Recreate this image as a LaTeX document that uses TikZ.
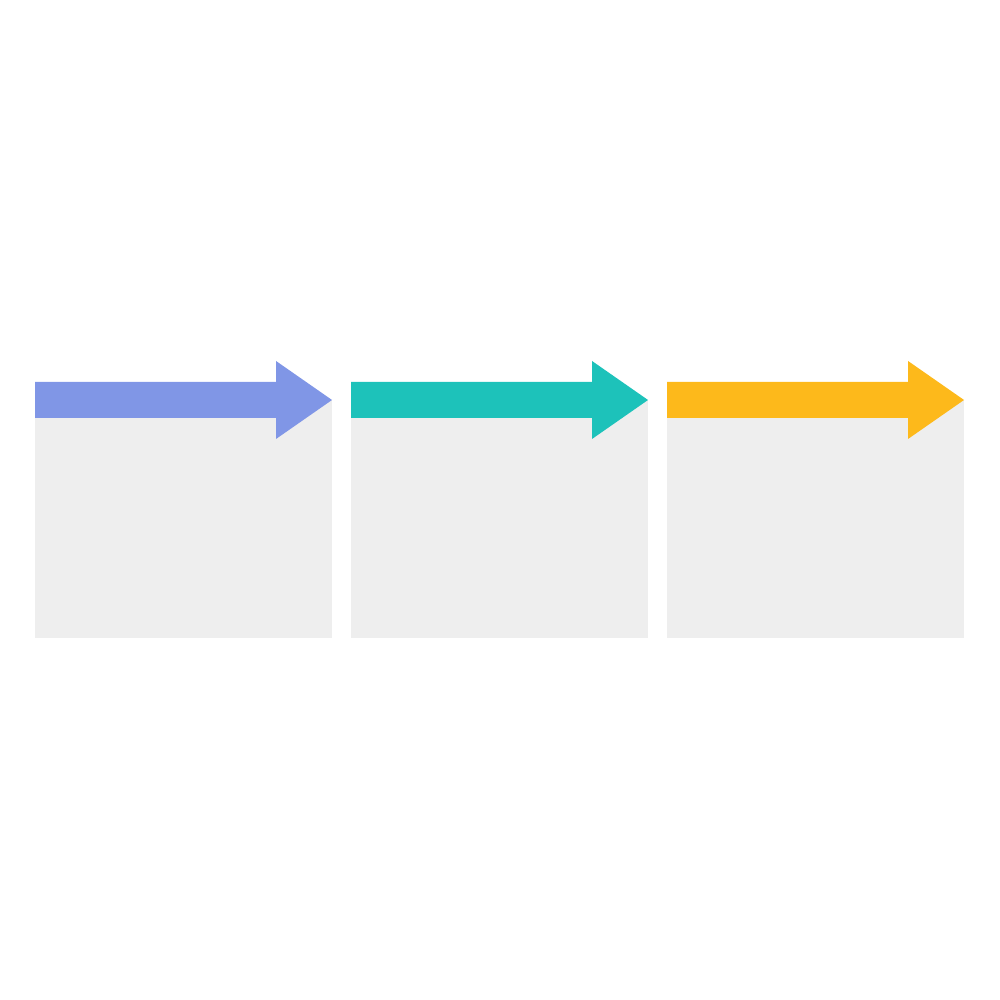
\documentclass[tikz,border=0pt]{standalone}
\definecolor{stepblue}{HTML}{8096E6}
\definecolor{stepteal}{HTML}{1DC2BA}
\definecolor{stepgold}{HTML}{FDB91B}
\definecolor{panelgray}{HTML}{EEEEEE}
\tikzset{panel/.style={fill=panelgray, draw=none, minimum width=2.97cm, minimum height=2.38cm, inner sep=0pt, outer sep=0pt, anchor=north west}}
\begin{document}
\begin{tikzpicture}
\useasboundingbox (0,0) rectangle (10,10);
\foreach \i/\x/\col in {1/0.35/stepblue, 2/3.51/stepteal, 3/6.67/stepgold} {
  \node[panel] (panel\i) at (\x, 6.00) {};
  \fill[\col] (panel\i.north west) ++(0, 0.18) -- ++(2.41, 0) -- ++(0, 0.21) -- (panel\i.north east) -- ++(-0.56, -0.39) -- ++(0, 0.21) -- ++(-2.41, 0) -- cycle;
}
\end{tikzpicture}
\end{document}
